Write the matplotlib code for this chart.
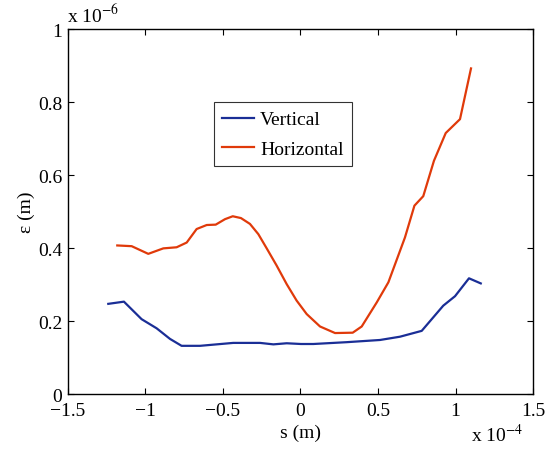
import numpy as np
import matplotlib.pyplot as plt
from matplotlib.ticker import FuncFormatter

plt.rcParams['font.family'] = ['Liberation Serif', 'DejaVu Serif']
plt.rcParams['mathtext.fontset'] = 'stix'

# Vertical emittance vs position (s in 1e-4 m, eps in 1e-6 m)
s_vert = [-1.240, -1.139, -1.025, -0.928, -0.842, -0.767, -0.648, -0.541, -0.434,
          -0.261, -0.175, -0.089, 0.003, 0.083, 0.298, 0.513, 0.642, 0.782, 0.921,
          0.997, 1.087, 1.163]
eps_vert = [0.247, 0.253, 0.205, 0.180, 0.151, 0.132, 0.132, 0.136, 0.140,
            0.140, 0.136, 0.139, 0.137, 0.137, 0.142, 0.148, 0.157, 0.173, 0.242,
            0.268, 0.317, 0.303]

# Horizontal emittance
s_hor = [-1.182, -1.089, -0.982, -0.885, -0.799, -0.734, -0.670, -0.605, -0.547,
         -0.487, -0.437, -0.384, -0.326, -0.272, -0.218, -0.154, -0.089, -0.025,
         0.040, 0.126, 0.223, 0.337, 0.395, 0.492, 0.567, 0.674, 0.735, 0.792,
         0.861, 0.937, 1.029, 1.100]
eps_hor = [0.407, 0.405, 0.384, 0.399, 0.402, 0.415, 0.452, 0.463, 0.464,
           0.479, 0.487, 0.482, 0.466, 0.438, 0.399, 0.352, 0.301, 0.256,
           0.219, 0.185, 0.167, 0.168, 0.185, 0.251, 0.306, 0.429, 0.516, 0.542,
           0.639, 0.715, 0.753, 0.892]

s_vert = np.array(s_vert) * 1e-4
eps_vert = np.array(eps_vert) * 1e-6
s_hor = np.array(s_hor) * 1e-4
eps_hor = np.array(eps_hor) * 1e-6


def fmt(scale):
    return FuncFormatter(lambda v, p: f'{v / scale:g}'.replace('-', '\u2212'))


fig = plt.figure(figsize=(5.59, 4.52), dpi=100)
ax = fig.add_axes([0.1216, 0.1261, 0.8319, 0.8075])

ax.plot(s_vert, eps_vert, color='#1a2e96', lw=1.6, label='Vertical')
ax.plot(s_hor, eps_hor, color='#e03a0a', lw=1.6, label='Horizontal')

ax.set_xlim(-1.5e-4, 1.5e-4)
ax.set_ylim(0, 1e-6)
ax.set_xticks(np.arange(-1.5, 1.51, 0.5) * 1e-4)
ax.set_yticks(np.arange(0, 1.01, 0.2) * 1e-6)
ax.xaxis.set_major_formatter(fmt(1e-4))
ax.yaxis.set_major_formatter(fmt(1e-6))
ax.tick_params(direction='in', top=True, right=True, labelsize=14, length=4,
               width=0.8)
ax.tick_params(axis='x', pad=6)
ax.tick_params(axis='y', pad=4)
for sp in ax.spines.values():
    sp.set_linewidth(1.0)

ax.set_xlabel('s (m)', fontsize=14, labelpad=3)
ax.set_ylabel('ε (m)', fontsize=14, labelpad=2)

fig.text(0.120, 0.942, r'x 10$^{-6}$', fontsize=14, ha='left', va='bottom')
fig.text(0.843, 0.012, r'x 10$^{-4}$', fontsize=14, ha='left', va='bottom')

leg = ax.legend(loc='upper left', bbox_to_anchor=(0.313, 0.80), fontsize=14,
                frameon=True, fancybox=False, edgecolor='black',
                handlelength=1.65, handletextpad=0.3, borderpad=0.45,
                labelspacing=0.6, borderaxespad=0)
leg.get_frame().set_linewidth(0.8)

fig.savefig('out.png', dpi=100)
